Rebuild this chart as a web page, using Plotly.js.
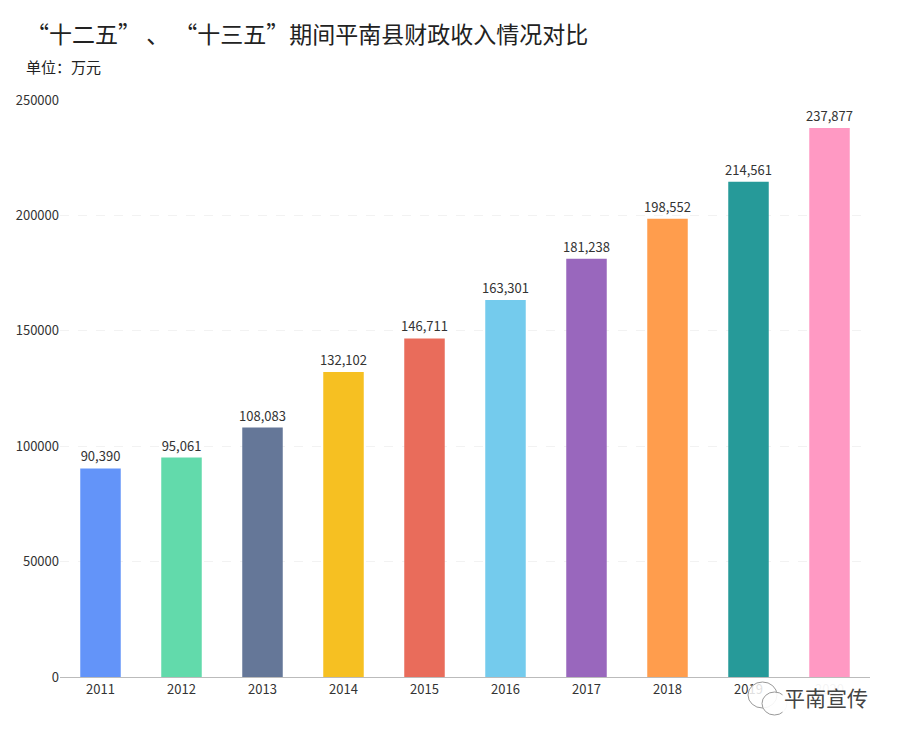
<!DOCTYPE html>
<html>
<head>
<meta charset="utf-8">
<script src="https://cdn.plot.ly/plotly-3.0.1.min.js"></script>
<style>
  html, body { margin: 0; padding: 0; background: #fff; }
  #chart { width: 900px; height: 738px; }
</style>
</head>
<body>
<div id="chart"></div>
<script>
const years = ['2011', '2012', '2013', '2014', '2015', '2016', '2017', '2018', '2019', '2020'];
const revenue = [90390, 95061, 108083, 132102, 146711, 163301, 181238, 198552, 214561, 237877];
const barColors = [
  '#6394F9', '#62DAAB', '#657798', '#F6C022', '#E96C5B',
  '#74CBED', '#9967BD', '#FF9D4D', '#269A99', '#FF99C3',
];
const yTicks = [0, 50000, 100000, 150000, 200000, 250000];

const FONT = '"Microsoft YaHei", "Noto Sans CJK SC", "Noto Sans", sans-serif';

// plot area is 810 x 577 px; helpers to place overlay bits in pixels
const px = (v) => (v - 60) / 810;
const py = (v) => (677 - v) / 577;

const trace = {
  type: 'bar',
  x: years,
  y: revenue,
  width: 0.5,
  marker: { color: barColors },
  text: revenue.map(v => v.toLocaleString('en-US')),
  textposition: 'outside',
  constraintext: 'none',
  textfont: { size: 13, color: '#333', family: FONT },
  cliponaxis: false,
  hoverinfo: 'x+y',
};

Plotly.newPlot('chart', [trace], {
  width: 900,
  height: 738,
  margin: { l: 60, r: 30, t: 100, b: 61 },
  paper_bgcolor: '#fff',
  plot_bgcolor: '#fff',
  font: { family: FONT, color: '#333' },
  showlegend: false,
  title: {
    text: '“十二五” 、 “十三五”期间平南县财政收入情况对比',
    font: { size: 23, color: '#222', family: FONT },
    x: 26 / 900, xanchor: 'left', xref: 'container',
    y: 1 - 35 / 738, yanchor: 'middle', yref: 'container',
    pad: { l: 0, r: 0, t: 0, b: 0 },
  },
  xaxis: {
    type: 'category',
    showgrid: false,
    showline: true,
    linecolor: '#bbb',
    linewidth: 1,
    ticks: '',
    tickfont: { size: 13, color: '#333' },
  },
  yaxis: {
    range: [0, 250000],
    tickmode: 'array',
    tickvals: yTicks,
    ticktext: yTicks.map(String),
    showgrid: true,
    gridcolor: '#f2f2f2',
    griddash: 'dash',
    zeroline: false,
    showline: false,
    ticks: '',
    tickfont: { size: 13, color: '#333' },
  },
  shapes: [
    // little chat-bubble mark of the watermark
    {
      type: 'circle', xref: 'paper', yref: 'paper', layer: 'above',
      x0: px(748), x1: px(777), y0: py(708), y1: py(682),
      line: { color: '#999', width: 1 }, fillcolor: 'rgba(255,255,255,0.85)',
    },
    {
      type: 'circle', xref: 'paper', yref: 'paper', layer: 'above',
      x0: px(762), x1: px(787), y0: py(715), y1: py(692),
      line: { color: '#999', width: 1 }, fillcolor: 'rgba(255,255,255,0.9)',
    },
  ],
  annotations: [
    {
      text: '单位：万元',
      xref: 'paper', yref: 'paper',
      x: px(24), y: py(66),
      xanchor: 'left', yanchor: 'middle',
      showarrow: false,
      font: { size: 15, color: '#222' },
    },
    {
      text: '平南宣传',
      xref: 'paper', yref: 'paper',
      x: px(870), y: py(697),
      xanchor: 'right', yanchor: 'middle',
      showarrow: false,
      bgcolor: 'rgba(255,255,255,0.95)',
      font: { size: 21, color: '#444' },
    },
  ],
}, { displayModeBar: false });
</script>
</body>
</html>
